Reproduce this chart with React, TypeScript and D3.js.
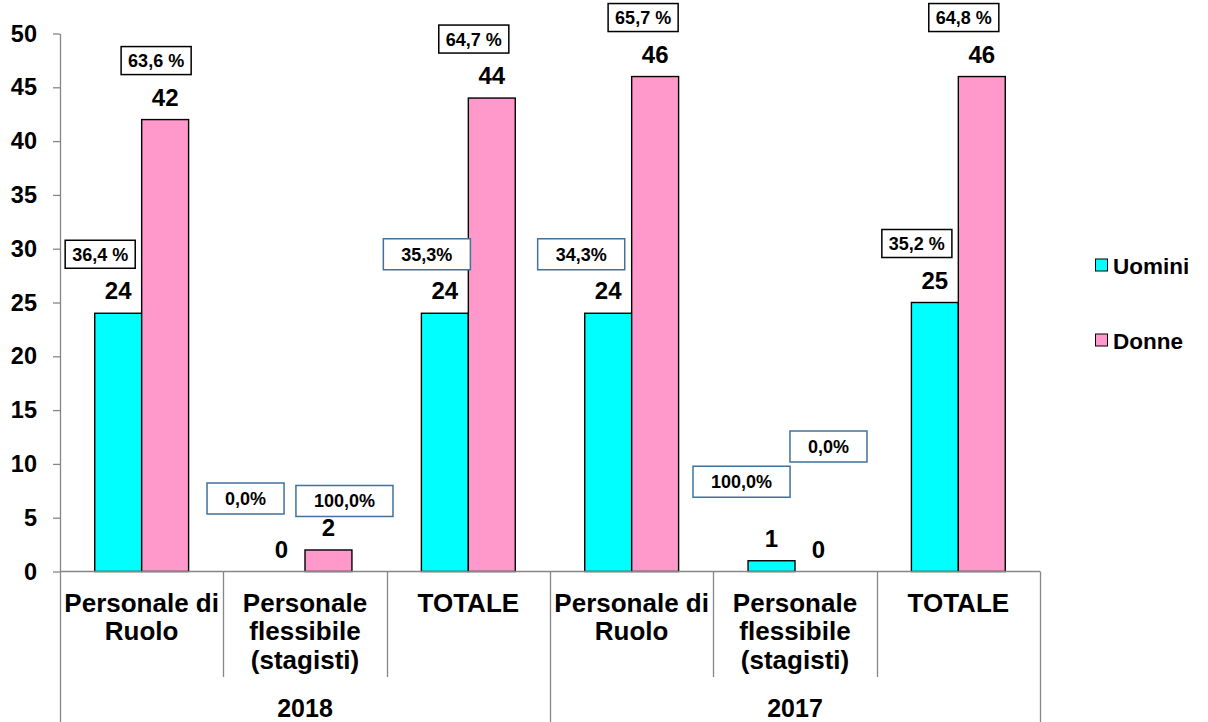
import React, { useEffect, useRef } from 'react';
import * as d3 from 'd3';

// data
const years = ['2018', '2017'];
const categoryLines = [
  ['Personale di', 'Ruolo'],
  ['Personale', 'flessibile', '(stagisti)'],
  ['TOTALE'],
];
const series = ['Uomini', 'Donne'];
const uomini = [24, 0, 24, 24, 1, 25];
const donne = [42, 2, 44, 46, 0, 46];
const uominiPct = ['36,4 %', '0,0%', '35,3%', '34,3%', '100,0%', '35,2 %'];
const donnePct = ['63,6 %', '100,0%', '64,7 %', '65,7 %', '0,0%', '64,8 %'];
const yTicks = [0, 5, 10, 15, 20, 25, 30, 35, 40, 45, 50];

// label box look + hand placed nudges (the original boxes were dragged around)
const uominiBoxBlue = [false, true, true, true, true, false];
const donneBoxBlue = [false, true, false, false, true, false];
const uominiNudge = [[0, 0], [-18, -14], [0, 0], [-9, 0], [-12, -20], [0, 0]];
const donneNudge = [[9, 0], [34, 10], [0, 0], [6, 0], [28, -66], [0, 0]];

const colors: Record<string, string> = { Uomini: '#00FFFF', Donne: '#FF99CC' };
const FONT = '"Liberation Sans", Arial, sans-serif';

const App: React.FC = () => {
  const svgRef = useRef<SVGSVGElement>(null);

  useEffect(() => {
    const W = 1208;
    const H = 722;
    const left = 60;
    const right = 1040;
    const top = 33.5;
    const bottom = 571.5;

    const svg = d3.select(svgRef.current).attr('width', W).attr('height', H);
    svg.selectAll('*').remove();

    const groupLabels = years.flatMap(yr => categoryLines.map((c, i) => `${yr}-${i}`));
    const x0 = d3.scaleBand<string>().domain(groupLabels).range([left, right]);
    const x1 = d3.scaleBand<string>()
      .domain(series)
      .range([0, x0.bandwidth()])
      .paddingInner(0)
      .paddingOuter(0.74);
    const y = d3.scaleLinear().domain([0, 50]).range([bottom, top]);

    // y axis
    const yAxis = svg.append('g')
      .attr('transform', `translate(${left},0)`)
      .call(d3.axisLeft(y).tickValues(yTicks).tickSize(7).tickSizeOuter(0).tickPadding(16) as any);
    yAxis.select('.domain').attr('stroke', '#868686').attr('stroke-width', 1.3);
    yAxis.selectAll('.tick line').attr('stroke', '#868686').attr('stroke-width', 1.3);
    yAxis.selectAll('.tick text')
      .attr('font-family', FONT)
      .attr('font-weight', 'bold')
      .attr('font-size', 23.5)
      .attr('fill', '#000');

    // bars
    const rows = groupLabels.map((g, i) => ({
      g,
      i,
      vals: [
        { s: 'Uomini', v: uomini[i], pct: uominiPct[i], blue: uominiBoxBlue[i], nudge: uominiNudge[i] },
        { s: 'Donne', v: donne[i], pct: donnePct[i], blue: donneBoxBlue[i], nudge: donneNudge[i] },
      ],
    }));

    const grp = svg.append('g')
      .selectAll('g')
      .data(rows)
      .enter().append('g')
      .attr('transform', d => `translate(${x0(d.g)},0)`);

    grp.selectAll('rect')
      .data(d => d.vals.filter(v => v.v > 0))
      .enter().append('rect')
      .attr('x', d => x1(d.s)!)
      .attr('y', d => y(d.v))
      .attr('width', x1.bandwidth())
      .attr('height', d => y(0) - y(d.v))
      .attr('fill', d => colors[d.s])
      .attr('stroke', '#000')
      .attr('stroke-width', 1.4);

    // x axis line and separators
    const xa = svg.append('g');
    xa.append('line')
      .attr('x1', left).attr('x2', right)
      .attr('y1', bottom).attr('y2', bottom)
      .attr('stroke', '#868686').attr('stroke-width', 1.3);
    d3.range(groupLabels.length + 1).forEach(k => {
      const xx = Math.round(left + k * x0.step()) + 0.5;
      const full = k % categoryLines.length === 0;
      xa.append('line')
        .attr('x1', xx).attr('x2', xx)
        .attr('y1', bottom).attr('y2', full ? H : 677)
        .attr('stroke', '#868686').attr('stroke-width', 1.3);
    });

    // category labels
    rows.forEach(r => {
      const lines = categoryLines[r.i % categoryLines.length];
      const t = xa.append('text')
        .attr('x', x0(r.g)! + x0.bandwidth() / 2)
        .attr('y', 611.5)
        .attr('text-anchor', 'middle')
        .attr('font-family', FONT)
        .attr('font-weight', 'bold')
        .attr('font-size', 26)
        .attr('fill', '#000');
      lines.forEach((ln, j) => {
        t.append('tspan')
          .attr('x', x0(r.g)! + x0.bandwidth() / 2)
          .attr('dy', j === 0 ? 0 : 28.5)
          .text(ln);
      });
    });

    years.forEach((yr, k) => {
      const n = categoryLines.length;
      const x = left + (k * n + n / 2) * x0.step();
      xa.append('text')
        .attr('x', x)
        .attr('y', 716.5)
        .attr('text-anchor', 'middle')
        .attr('font-family', FONT)
        .attr('font-weight', 'bold')
        .attr('font-size', 25)
        .attr('fill', '#000')
        .text(yr);
    });

    // value labels and percentage boxes
    rows.forEach(r => {
      r.vals.forEach(v => {
        const cx = x0(r.g)! + x1(v.s)! + x1.bandwidth() / 2;
        const topY = y(v.v);
        svg.append('text')
          .attr('x', cx)
          .attr('y', topY - 14)
          .attr('text-anchor', 'middle')
          .attr('font-family', FONT)
          .attr('font-weight', 'bold')
          .attr('font-size', 24)
          .attr('fill', '#000')
          .text(v.v);

        const bx = cx - 18 + v.nudge[0];
        const by = topY - 59 + v.nudge[1];
        const box = svg.append('g');
        const rect = box.append('rect');
        const txt = box.append('text')
          .attr('x', bx)
          .attr('y', by)
          .attr('dy', '0.36em')
          .attr('text-anchor', 'middle')
          .attr('font-family', FONT)
          .attr('font-weight', 'bold')
          .attr('font-size', 18)
          .attr('fill', '#000')
          .text(v.pct);
        const tw = (txt.node() as SVGTextElement).getComputedTextLength();
        const bw = v.blue ? tw + 36 : tw + 14;
        const bh = v.blue ? 31 : 28;
        rect
          .attr('x', bx - bw / 2)
          .attr('y', by - bh / 2)
          .attr('width', bw)
          .attr('height', bh)
          .attr('fill', '#fff')
          .attr('stroke', v.blue ? '#41719C' : '#000')
          .attr('stroke-width', 1.5);
      });
    });

    // legend
    const legend = svg.append('g');
    series.forEach((s, k) => {
      const ly = 265.5 + k * 75;
      legend.append('rect')
        .attr('x', 1095.5)
        .attr('y', ly - 6.5)
        .attr('width', 12)
        .attr('height', 12)
        .attr('fill', colors[s])
        .attr('stroke', '#000')
        .attr('stroke-width', 1);
      legend.append('text')
        .attr('x', 1113)
        .attr('y', ly)
        .attr('dy', '0.36em')
        .attr('font-family', FONT)
        .attr('font-weight', 'bold')
        .attr('font-size', 22.5)
        .attr('fill', '#000')
        .text(s);
    });
  }, []);

  return (
    <svg ref={svgRef} style={{ position: 'absolute', left: 0, top: 0, background: '#fff' }}></svg>
  );
};

export default App;
